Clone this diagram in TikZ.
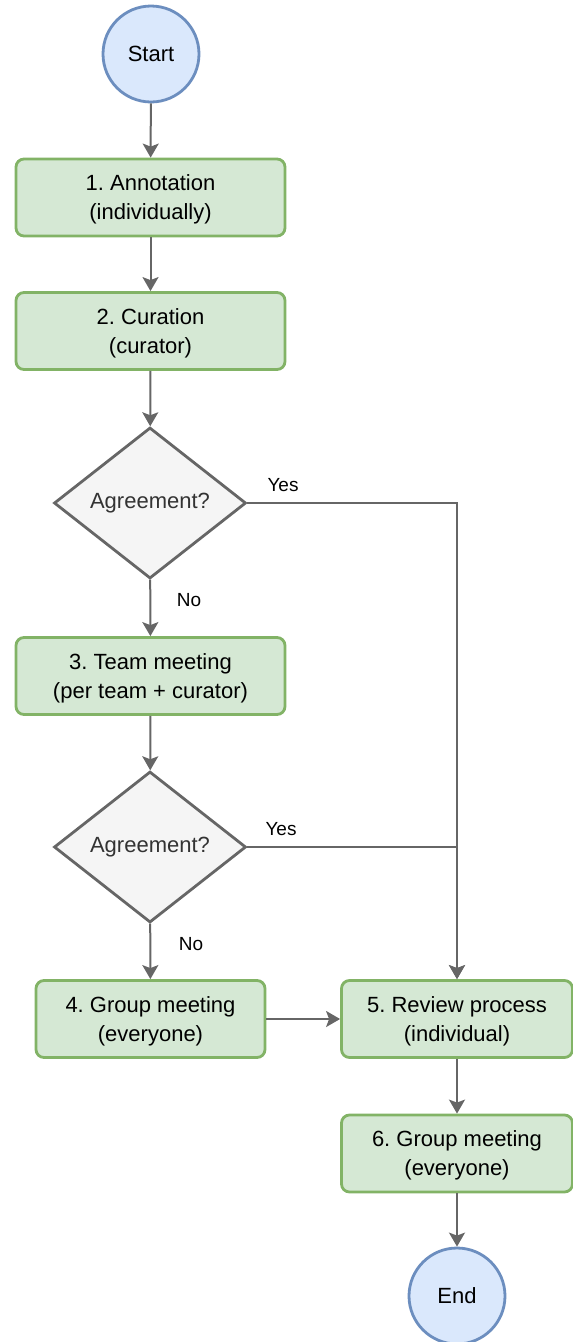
\documentclass[tikz,border=0pt]{standalone}
\usepackage{fontspec}
\setmainfont{Liberation Sans}
\usetikzlibrary{shapes.geometric,arrows.meta}
\definecolor{gfill}{HTML}{D5E8D4}
\definecolor{gline}{HTML}{82B366}
\definecolor{bfill}{HTML}{DAE8FC}
\definecolor{bline}{HTML}{6C8EBF}
\definecolor{dfill}{HTML}{F5F5F5}
\definecolor{dline}{HTML}{666666}
\definecolor{dtext}{HTML}{333333}
\tikzset{
  stepbox/.style={draw=gline, fill=gfill, line width=2.8pt, rounded corners=8pt,
    minimum width=269pt, minimum height=77pt, align=center, inner sep=0pt,
    text depth=0pt, font=\fontsize{22pt}{29pt}\selectfont\frenchspacing},
  termnode/.style={circle, draw=bline, fill=bfill, line width=2.8pt,
    minimum size=96pt, inner sep=0pt, font=\fontsize{22pt}{29pt}\selectfont},
  decision/.style={diamond, draw=dline, fill=dfill, line width=2.8pt,
    minimum width=192pt, minimum height=151pt, inner sep=0pt, text=dtext,
    font=\fontsize{22pt}{29pt}\selectfont},
  flow/.style={draw=dline, line width=2pt, -{Stealth[length=14pt,width=16pt,inset=3pt]}},
  lbl/.style={font=\fontsize{19pt}{22pt}\selectfont, inner sep=0pt}
}
\begin{document}
\begin{tikzpicture}[x=1pt,y=-1pt]
\useasboundingbox (0,0) rectangle (573,1342);
\node[termnode] (start) at (151,54) {Start};
\node[stepbox] (s1) at (150.5,197.5) {1. Annotation\\(individually)};
\node[stepbox] (s2) at (150.5,331) {2. Curation\\(curator)};
\node[decision] (d1) at (150,503) {Agreement?};
\node[stepbox] (s3) at (150.5,676) {3. Team meeting\\(per team + curator)};
\node[decision] (d2) at (150,847) {Agreement?};
\node[stepbox, minimum width=229pt] (s4) at (150.5,1019) {4. Group meeting\\(everyone)};
\node[stepbox, minimum width=231pt] (s5) at (457,1019) {5. Review process\\(individual)};
\node[stepbox, minimum width=231pt] (s6) at (457,1153.5) {6. Group meeting\\(everyone)};
\node[termnode] (end) at (457,1296) {End};

\draw[flow] (start) -- (s1);
\draw[flow] (s1) -- (s2);
\draw[flow] (s2) -- (d1);
\draw[flow] (d1) -- (s3);
\draw[flow] (s3) -- (d2);
\draw[flow] (d2) -- (s4);
\draw[flow] (d1.east) -| (s5.north);
\draw[flow] (d2.east) -| (s5.north);
\draw[flow] (s4) -- (s5);
\draw[flow] (s5) -- (s6);
\draw[flow] (s6) -- (end);

\node[lbl] (yes1) at (283,485) {Yes};
\node[lbl] (no1) at (189,600) {No};
\node[lbl] (yes2) at (281,829) {Yes};
\node[lbl] (no2) at (191,944) {No};
\end{tikzpicture}
\end{document}
